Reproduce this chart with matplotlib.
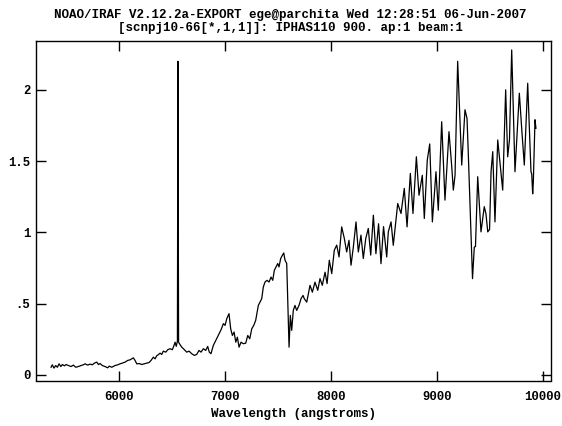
import matplotlib
matplotlib.use("Agg")
import matplotlib.pyplot as plt
import numpy as np

# spectrum (wavelength in angstroms, flux)
wave = [5358, 5370, 5386, 5402, 5418, 5434, 5450, 5465, 5484, 5500,
        5522, 5547, 5569, 5591, 5616, 5641, 5663, 5679, 5705, 5726,
        5748, 5767, 5790, 5805, 5821, 5842, 5868, 5893, 5908, 5931,
        5962, 5988, 6009, 6031, 6057, 6082, 6104, 6120, 6135, 6151,
        6167, 6192, 6214, 6236, 6261, 6283, 6302, 6324, 6340, 6356,
        6371, 6387, 6403, 6418, 6441, 6460, 6481, 6503, 6519, 6529,
        6540, 6551, 6556, 6562, 6575, 6592, 6617, 6639, 6661, 6686,
        6711, 6733, 6755, 6774, 6796, 6818, 6837, 6852, 6868, 6890,
        6913, 6937, 6963, 6985, 7001, 7017, 7038, 7054, 7070, 7086,
        7102, 7117, 7133, 7152, 7173, 7196, 7215, 7234, 7253, 7272,
        7290, 7306, 7315, 7331, 7347, 7362, 7378, 7397, 7416, 7435,
        7451, 7466, 7482, 7498, 7510, 7526, 7542, 7555, 7567, 7583,
        7605, 7617, 7630, 7645, 7661, 7677, 7699, 7718, 7737, 7749,
        7772, 7803, 7825, 7850, 7876, 7897, 7919, 7945, 7964, 7985,
        8008, 8032, 8055, 8077, 8102, 8127, 8149, 8171, 8190, 8212,
        8237, 8259, 8284, 8306, 8329, 8353, 8376, 8401, 8425, 8450,
        8473, 8497, 8527, 8542, 8568, 8589, 8631, 8662, 8693, 8719,
        8750, 8775, 8807, 8832, 8863, 8882, 8910, 8933, 8958, 8992,
        9014, 9046, 9077, 9115, 9141, 9156, 9172, 9197, 9235, 9266,
        9285, 9295, 9313, 9337, 9354, 9365, 9386, 9417, 9448, 9464,
        9481, 9498, 9512, 9528, 9549, 9575, 9597, 9622, 9650, 9669,
        9686, 9707, 9738, 9779, 9804, 9826, 9858, 9889, 9896, 9905,
        9911, 9927, 9936]
flux = [0.053, 0.070, 0.047, 0.065, 0.053, 0.077, 0.058, 0.072, 0.063, 0.072,
        0.065, 0.058, 0.068, 0.053, 0.058, 0.065, 0.070, 0.077, 0.068, 0.075,
        0.070, 0.082, 0.089, 0.072, 0.079, 0.065, 0.058, 0.049, 0.061, 0.053,
        0.065, 0.070, 0.077, 0.082, 0.089, 0.101, 0.105, 0.112, 0.119, 0.101,
        0.077, 0.079, 0.072, 0.077, 0.082, 0.086, 0.101, 0.124, 0.112, 0.134,
        0.141, 0.152, 0.143, 0.166, 0.159, 0.176, 0.183, 0.176, 0.206, 0.229,
        0.200, 0.235, 2.200, 0.229, 0.213, 0.194, 0.176, 0.159, 0.166, 0.148,
        0.136, 0.143, 0.171, 0.159, 0.183, 0.171, 0.199, 0.159, 0.148, 0.206,
        0.241, 0.276, 0.316, 0.359, 0.347, 0.394, 0.429, 0.323, 0.276, 0.300,
        0.229, 0.264, 0.194, 0.229, 0.218, 0.222, 0.276, 0.253, 0.323, 0.347,
        0.382, 0.452, 0.487, 0.511, 0.534, 0.616, 0.651, 0.663, 0.651, 0.686,
        0.663, 0.733, 0.757, 0.781, 0.757, 0.816, 0.839, 0.855, 0.804, 0.781,
        0.194, 0.417, 0.312, 0.452, 0.487, 0.452, 0.487, 0.534, 0.557, 0.534,
        0.510, 0.628, 0.580, 0.650, 0.593, 0.675, 0.628, 0.720, 0.640, 0.804,
        0.710, 0.874, 0.910, 0.827, 1.038, 0.956, 0.862, 0.944, 0.769, 0.897,
        1.073, 0.862, 0.980, 0.816, 0.956, 1.027, 0.840, 1.120, 0.850, 1.060,
        0.780, 1.040, 0.827, 1.003, 1.073, 0.909, 1.202, 1.132, 1.308, 1.038,
        1.413, 1.132, 1.530, 1.260, 1.400, 1.097, 1.507, 1.620, 1.073, 1.425,
        1.155, 1.776, 1.226, 1.706, 1.460, 1.296, 1.400, 2.200, 1.472, 1.860,
        1.800, 1.600, 1.200, 0.675, 0.897, 0.900, 1.390, 1.003, 1.180, 1.130,
        1.003, 1.020, 1.425, 1.566, 1.073, 1.648, 1.484, 1.296, 2.000, 1.530,
        1.650, 2.280, 1.425, 1.976, 1.700, 1.472, 2.046, 1.425, 1.410, 1.270,
        1.350, 1.790, 1.730]

xticks = [6000, 7000, 8000, 9000, 10000]
yticks = [0, 0.5, 1, 1.5, 2]
ylabels = ['0', '.5', '1', '1.5', '2']
title1 = 'NOAO/IRAF V2.12.2a-EXPORT ege@parchita Wed 12:28:51 06-Jun-2007'
title2 = '[scnpj10-66[*,1,1]]: IPHAS110 900. ap:1 beam:1'

font = {'family': 'Liberation Mono', 'weight': 'bold'}

fig = plt.figure(figsize=(5.62, 4.26), dpi=100)
ax = fig.add_axes([36 / 562, 1 - 380.5 / 426, 515 / 562, 339 / 426])

ax.plot(wave, flux, color='black', lw=0.9)

ax.set_xlim(5216, 10078)
ax.set_ylim(-0.040, 2.339)
ax.set_xticks(xticks)
ax.set_xticklabels([str(t) for t in xticks], fontdict=font, fontsize=8.8)
ax.set_yticks(yticks)
ax.set_yticklabels(ylabels, fontdict=font, fontsize=8.8)
ax.tick_params(direction='in', length=7.5, width=1.0, top=True, right=True,
               color='black')
ax.tick_params(axis='x', pad=7.5)
ax.tick_params(axis='y', pad=4)
for s in ax.spines.values():
    s.set_linewidth(1.0)

ax.set_xlabel('Wavelength (angstroms)', fontdict=font, fontsize=9, labelpad=4)

fig.text(290 / 562, 1 - 15 / 426, title1, ha='center', va='center',
         fontdict=font, fontsize=9)
fig.text(290 / 562, 1 - 28 / 426, title2, ha='center', va='center',
         fontdict=font, fontsize=9)

fig.savefig('out.png', dpi=100)
